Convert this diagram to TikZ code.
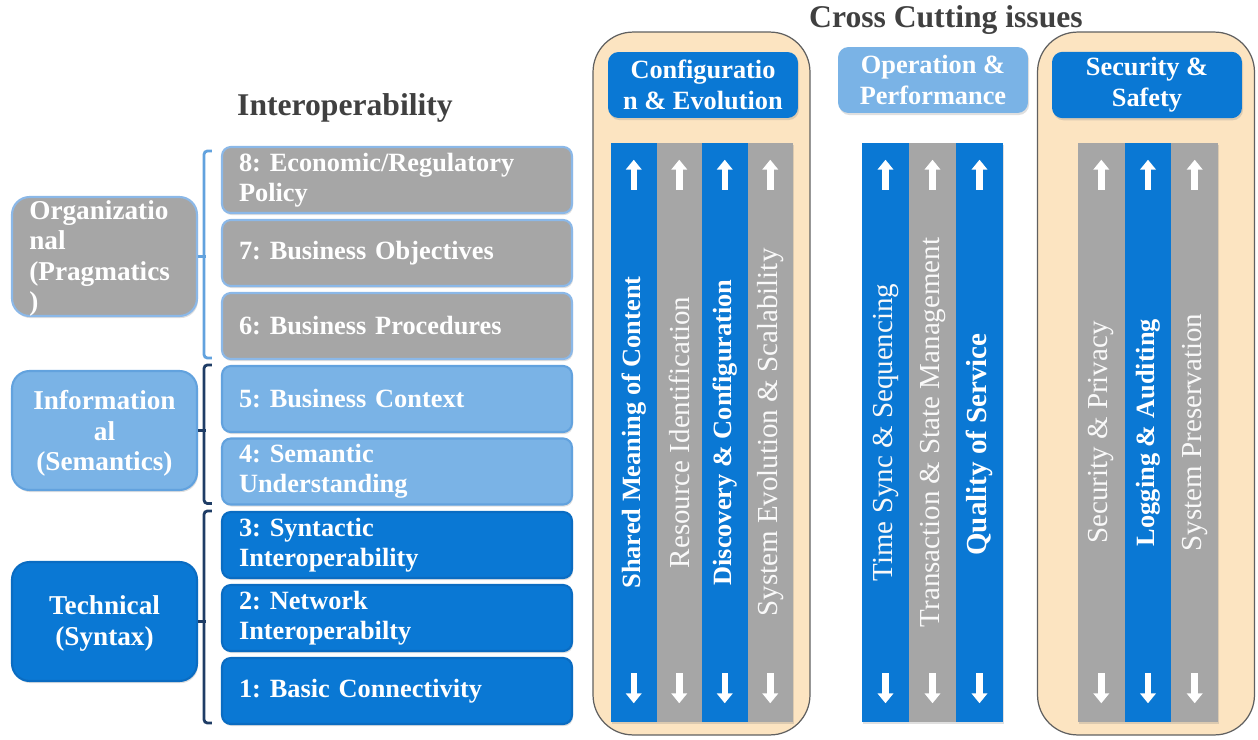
\documentclass[tikz,border=0pt]{standalone}
\usepackage{fontspec}
\setmainfont{Liberation Serif}
\usetikzlibrary{calc,shadows,arrows.meta}
\definecolor{ccblue}{HTML}{0A78D4}
\definecolor{ccblueedge}{HTML}{0A6CC2}
\definecolor{ccgray}{HTML}{A6A6A6}
\definecolor{cclight}{HTML}{7AB3E6}
\definecolor{cclightedge}{HTML}{62A2DE}
\definecolor{ccedge}{HTML}{8BB8E8}
\definecolor{ccpeach}{HTML}{FCE4C1}
\definecolor{ccnavy}{HTML}{1F3D66}
\definecolor{cctitle}{HTML}{404040}
\tikzset{softshadow/.style={drop shadow={shadow xshift=0.6pt, shadow yshift=-1.2pt, opacity=0.25}}}
\tikzset{level/.style={rounded corners=5pt, line width=1.2pt, minimum width=7cm, minimum height=1.32cm, text width=6.32cm, align=left, inner xsep=0.34cm, inner ysep=0pt, text=white, font=\bfseries\fontsize{15}{17}\selectfont, softshadow}}
\tikzset{levelgray/.style={level, fill=ccgray, draw=ccedge}}
\tikzset{levellight/.style={level, fill=cclight, draw=cclightedge}}
\tikzset{levelblue/.style={level, fill=ccblue, draw=ccblueedge}}
\tikzset{group/.style={rounded corners=10pt, line width=1.2pt, minimum width=3.7cm, minimum height=2.38cm, softshadow}}
\tikzset{grouptext/.style={text=white, font=\bfseries\fontsize{15.5}{17.2}\selectfont, inner sep=0pt}}
\tikzset{header/.style={rounded corners=6pt, minimum width=3.8cm, minimum height=1.32cm, align=center, text=white, font=\bfseries\fontsize{15}{17.5}\selectfont, softshadow}}
\tikzset{container/.style={rounded corners=0.8cm, fill=ccpeach, draw=gray!75!black, line width=0.7pt, minimum width=4.34cm, minimum height=14.06cm}}
\tikzset{column/.style={minimum height=11.58cm, inner sep=0pt, softshadow}}
\tikzset{colblue/.style={column, fill=ccblue}}
\tikzset{colgray/.style={column, fill=ccgray}}
\tikzset{coltext/.style={rotate=90, text=white!95!gray, inner sep=0pt, font=\fontsize{16.5}{18}\selectfont}}
\tikzset{colbold/.style={coltext, text=white, font=\bfseries\fontsize{15}{18}\selectfont}}
\tikzset{colarrow/.style={white, line width=0.13cm, -{Triangle[width=0.31cm, length=0.2cm]}}}
\tikzset{brace/.style={line width=1.6pt, rounded corners=2pt}}
\tikzset{title/.style={text=cctitle, font=\bfseries\fontsize{18}{20}\selectfont}}

\begin{document}
\frenchspacing
\begin{tikzpicture}[x=0.02cm, y=-0.02cm]
\useasboundingbox (0,0) rectangle (1258,740);
%interoperability levels
\node (title) at (345,108)[title]{Interoperability};
\node (l8) at (397,180)[levelgray]{8: Economic/Regulatory\\Policy};
\node (l7) at (397,253)[levelgray]{7: Business Objectives};
\node (l6) at (397,326)[levelgray]{6: Business Procedures};
\node (l5) at (397,399)[levellight]{5: Business Context};
\node (l4) at (397,471.5)[levellight]{4: Semantic\\Understanding};
\node (l3) at (397,545)[levelblue]{3: Syntactic\\Interoperability};
\node (l2) at (397,618)[levelblue]{2: Network\\Interoperabilty};
\node (l1) at (397,691)[levelblue]{1: Basic Connectivity};
\node (org) at (104.5,256.5)[group, fill=ccgray, draw=ccedge]{};
\node (info) at (104.5,430.5)[group, fill=cclight, draw=cclightedge]{};
\node (tech) at (104.5,621.5)[group, fill=ccblue, draw=ccblueedge]{};
\node (orgtext) at ($(org.west)+(18,2)$)[grouptext, anchor=west, align=left]{Organizatio\\nal\\(Pragmatics\\)};
\node (infotext) at ($(info.center)+(0,3)$)[grouptext, align=center]{Information\\al\\(Semantics)};
\node (techtext) at ($(tech.center)+(0,2)$)[grouptext, align=center]{Technical\\(Syntax)};
\draw[brace, cclightedge] ($(l8.north west)+(-9,5)$)--($(l8.north west)+(-17,5)$)--($(l6.south west)+(-17,-2)$)--($(l6.south west)+(-9,-2)$);
\draw[brace, cclightedge] (org.east)--++(8,0);
\draw[brace, ccnavy] ($(l5.north west)+(-9,0)$)--($(l5.north west)+(-17,0)$)--($(l4.south west)+(-17,-2)$)--($(l4.south west)+(-9,-2)$);
\draw[brace, ccnavy] (info.east)--++(8,0);
\draw[brace, ccnavy] ($(l3.north west)+(-9,0)$)--($(l3.north west)+(-17,0)$)--($(l1.south west)+(-17,-2)$)--($(l1.south west)+(-9,-2)$);
\draw[brace, ccnavy] (tech.east)--++(8,0);
%cross cutting issues
\node (cross) at (946,20)[title]{Cross Cutting issues};
\node (cfgbox) at (701.5,383.5)[container]{};
\node (secbox) at (1146,383.5)[container]{};
\node (cfg) at (703,85)[header, fill=ccblue]{Configuratio\\n \& Evolution};
\node (ops) at (933,80)[header, fill=cclight]{Operation \&\\Performance};
\node (sec) at (1147,85)[header, fill=ccblue]{Security \&\\Safety};
\node (cfg1) at (633.75,432.5)[colblue, minimum width=0.91cm]{};
\node (cfg2) at (679.25,432.5)[colgray, minimum width=0.91cm]{};
\node (cfg3) at (724.75,432.5)[colblue, minimum width=0.91cm]{};
\node (cfg4) at (770.25,432.5)[colgray, minimum width=0.91cm]{};
\node (ops1) at (885.5,432.5)[colblue, minimum width=0.94cm]{};
\node (ops2) at (932.5,432.5)[colgray, minimum width=0.94cm]{};
\node (ops3) at (979.5,432.5)[colblue, minimum width=0.94cm]{};
\node (sec1) at (1101.3,432.5)[colgray, minimum width=0.933cm]{};
\node (sec2) at (1148,432.5)[colblue, minimum width=0.933cm]{};
\node (sec3) at (1194.7,432.5)[colgray, minimum width=0.933cm]{};
\node (cfg1t) at (cfg1)[colbold]{Shared Meaning of Content};
\node (cfg2t) at (cfg2)[coltext]{Resource Identification};
\node (cfg3t) at (cfg3)[colbold]{Discovery \& Configuration};
\node (cfg4t) at (cfg4)[coltext]{System Evolution \& Scalability};
\node (ops1t) at (ops1)[coltext]{Time Sync \& Sequencing};
\node (ops2t) at (ops2)[coltext]{Transaction \& State Management};
\node (ops3t) at ($(ops3)+(0,12)$)[colbold, font=\bfseries\fontsize{16.5}{18}\selectfont]{Quality of Service};
\node (sec1t) at (sec1)[coltext]{Security \& Privacy};
\node (sec2t) at (sec2)[colbold]{Logging \& Auditing};
\node (sec3t) at (sec3)[coltext]{System Preservation};
\draw[colarrow] ($(cfg1.north)+(0,47)$)--($(cfg1.north)+(0,17)$);
\draw[colarrow] ($(cfg1.south)+(0,-49)$)--($(cfg1.south)+(0,-19)$);
\draw[colarrow] ($(cfg2.north)+(0,47)$)--($(cfg2.north)+(0,17)$);
\draw[colarrow] ($(cfg2.south)+(0,-49)$)--($(cfg2.south)+(0,-19)$);
\draw[colarrow] ($(cfg3.north)+(0,47)$)--($(cfg3.north)+(0,17)$);
\draw[colarrow] ($(cfg3.south)+(0,-49)$)--($(cfg3.south)+(0,-19)$);
\draw[colarrow] ($(cfg4.north)+(0,47)$)--($(cfg4.north)+(0,17)$);
\draw[colarrow] ($(cfg4.south)+(0,-49)$)--($(cfg4.south)+(0,-19)$);
\draw[colarrow] ($(ops1.north)+(0,47)$)--($(ops1.north)+(0,17)$);
\draw[colarrow] ($(ops1.south)+(0,-49)$)--($(ops1.south)+(0,-19)$);
\draw[colarrow] ($(ops2.north)+(0,47)$)--($(ops2.north)+(0,17)$);
\draw[colarrow] ($(ops2.south)+(0,-49)$)--($(ops2.south)+(0,-19)$);
\draw[colarrow] ($(ops3.north)+(0,47)$)--($(ops3.north)+(0,17)$);
\draw[colarrow] ($(ops3.south)+(0,-49)$)--($(ops3.south)+(0,-19)$);
\draw[colarrow] ($(sec1.north)+(0,47)$)--($(sec1.north)+(0,17)$);
\draw[colarrow] ($(sec1.south)+(0,-49)$)--($(sec1.south)+(0,-19)$);
\draw[colarrow] ($(sec2.north)+(0,47)$)--($(sec2.north)+(0,17)$);
\draw[colarrow] ($(sec2.south)+(0,-49)$)--($(sec2.south)+(0,-19)$);
\draw[colarrow] ($(sec3.north)+(0,47)$)--($(sec3.north)+(0,17)$);
\draw[colarrow] ($(sec3.south)+(0,-49)$)--($(sec3.south)+(0,-19)$);
\end{tikzpicture}
\end{document}
